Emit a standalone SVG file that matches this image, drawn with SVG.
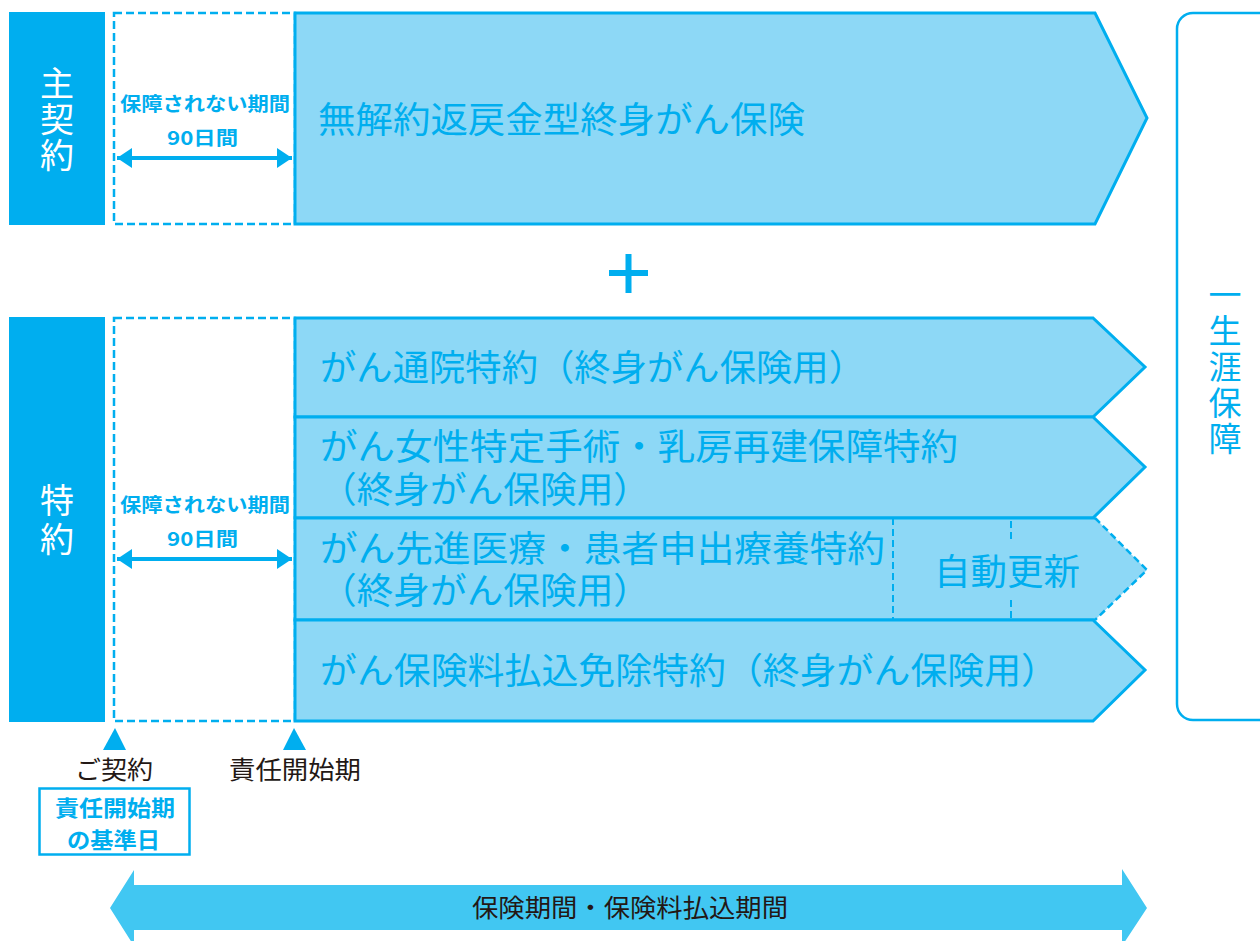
<svg xmlns="http://www.w3.org/2000/svg" width="1260" height="941" viewBox="0 0 1260 941">
<style>
.lbl{fill:#00AEEF}
.t{font-family:"Noto Sans CJK JP","Noto Sans",sans-serif}
.v{writing-mode:vertical-rl;text-orientation:upright}
.head{fill:#fff;font-size:34px}
.row{fill:#8DD8F6;stroke:#00AEEF;stroke-width:3}
.rt{fill:#00AEEF;font-size:36px}
.dash{fill:#fff;stroke:#00AEEF;stroke-width:2.5;stroke-dasharray:8 4}
.small{fill:#00AEEF;font-size:19px;font-weight:bold}
.blk{fill:#231815;font-size:25px}
</style>
<defs>
<marker id="ah" viewBox="0 0 15 20" refX="15" refY="10" markerWidth="15" markerHeight="20" markerUnits="userSpaceOnUse" orient="auto-start-reverse">
<path d="M0,0 L15,10 L0,20 z" fill="#00AEEF"/>
</marker>
</defs>
<rect width="1260" height="941" fill="#fff"/>

<g id="main-label">
<rect class="lbl" x="9" y="12" width="96" height="213"/>
<text class="t v head" x="57" y="66" letter-spacing="2">主契約</text>
</g>
<g id="main-wait">
<rect class="dash" x="114" y="13" width="181" height="211"/>
<text class="t small" x="120" y="111" textLength="170" lengthAdjust="spacingAndGlyphs">保障されない期間</text>
<text class="t small" x="167" y="145" textLength="71" lengthAdjust="spacingAndGlyphs">90日間</text>
</g>
<g id="main-policy">
<path class="row" d="M295,13 H1095 L1147,118 L1095,224 H295 Z"/>
<text class="t rt" x="318" y="133" textLength="487" lengthAdjust="spacingAndGlyphs">無解約返戻金型終身がん保険</text>
</g>

<g id="plus">
<path d="M609,273 H648 M628.5,254 V293" stroke="#00AEEF" stroke-width="6"/>
</g>

<g id="rider-label">
<rect class="lbl" x="9" y="317" width="96" height="405"/>
<text class="t v head" x="57" y="483" letter-spacing="5">特約</text>
</g>
<g id="rider-wait">
<rect class="dash" x="114" y="318" width="181" height="403"/>
<text class="t small" x="120" y="512" textLength="170" lengthAdjust="spacingAndGlyphs">保障されない期間</text>
<text class="t small" x="167" y="546" textLength="71" lengthAdjust="spacingAndGlyphs">90日間</text>
</g>
<g id="rider1">
<path class="row" d="M295,318 H1093 L1145,367 L1093,417 H295 Z"/>
<text class="t rt" x="320" y="381" textLength="545" lengthAdjust="spacingAndGlyphs">がん通院特約（終身がん保険用）</text>
</g>
<g id="rider2">
<path class="row" d="M295,417 H1093 L1145,467 L1093,518 H295 Z"/>
<text class="t rt"><tspan x="320" y="460" textLength="638" lengthAdjust="spacingAndGlyphs">がん女性特定手術・乳房再建保障特約</tspan><tspan x="320" y="503" textLength="330" lengthAdjust="spacingAndGlyphs">（終身がん保険用）</tspan></text>
</g>
<g id="rider3">
<path d="M295,518 H1095 L1147,570 L1095,620 H295 Z" fill="#8DD8F6"/>
<path d="M1095,620 H295 V518 H1095" fill="none" stroke="#00AEEF" stroke-width="3"/>
<path d="M1095,518 L1147,570 L1095,620" fill="none" stroke="#00AEEF" stroke-width="2.5" stroke-dasharray="7 4"/>
<path d="M893,518 V620" stroke="#00AEEF" stroke-width="2" stroke-dasharray="7 4"/>
<path d="M1011,521 V540 M1011,600 V620" stroke="#00AEEF" stroke-width="2" stroke-dasharray="7 4"/>
<text class="t rt"><tspan x="320" y="562" textLength="565" lengthAdjust="spacingAndGlyphs">がん先進医療・患者申出療養特約</tspan><tspan x="320" y="604" textLength="330" lengthAdjust="spacingAndGlyphs">（終身がん保険用）</tspan></text>
<text class="t rt" x="934" y="585" textLength="146" lengthAdjust="spacingAndGlyphs">自動更新</text>
</g>
<g id="rider4">
<path class="row" d="M295,620 H1093 L1145,670 L1093,721 H295 Z"/>
<text class="t rt" x="320" y="684" textLength="738" lengthAdjust="spacingAndGlyphs">がん保険料払込免除特約（終身がん保険用）</text>
</g>

<g id="lifetime">
<rect x="1177" y="13" width="110" height="707" rx="16" fill="#fff" stroke="#00AEEF" stroke-width="2.5"/>
<text class="t v" font-size="33" fill="#00AEEF" x="1225" y="278" letter-spacing="3">一生涯保障</text>
</g>

<g id="markers">
<path d="M115,728 L126,750 H103 Z" fill="#00AEEF"/>
<path d="M294,728 L306,750 H283 Z" fill="#00AEEF"/>
</g>
<g id="contract">
<text class="t blk" x="75" y="779" textLength="78" lengthAdjust="spacingAndGlyphs">ご契約</text>
<rect x="39.5" y="788.5" width="150" height="66" fill="#fff" stroke="#00AEEF" stroke-width="2.5"/>
<text class="t" font-size="22" font-weight="bold" fill="#00AEEF" x="55" y="816" textLength="120" lengthAdjust="spacingAndGlyphs">責任開始期</text>
<text class="t" font-size="22" font-weight="bold" fill="#00AEEF" x="67" y="848" textLength="93" lengthAdjust="spacingAndGlyphs">の基準日</text>
</g>
<g id="start">
<text class="t blk" x="229" y="779" textLength="132" lengthAdjust="spacingAndGlyphs">責任開始期</text>
</g>

<g id="connectors">
<line x1="117" y1="158" x2="292" y2="158" stroke="#00AEEF" stroke-width="4" marker-start="url(#ah)" marker-end="url(#ah)"/>
<line x1="117" y1="559" x2="292" y2="559" stroke="#00AEEF" stroke-width="4" marker-start="url(#ah)" marker-end="url(#ah)"/>
</g>

<g id="period">
<path d="M110,908 L134,870 V885 H1122 V869 L1147,908 L1122,946 V930 H134 V946 Z" fill="#41C7F2"/>
<text class="t" font-size="25" fill="#231815" x="472" y="917" textLength="316" lengthAdjust="spacingAndGlyphs">保険期間・保険料払込期間</text>
</g>
</svg>
